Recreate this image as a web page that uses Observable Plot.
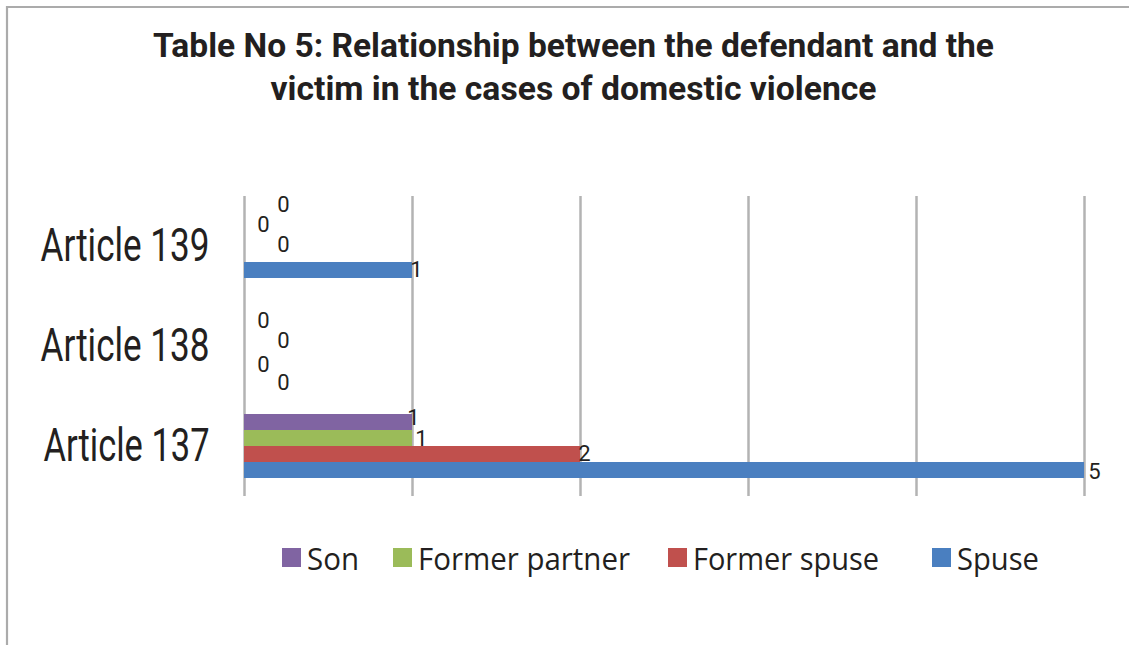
<!DOCTYPE html>
<html>
<head>
<meta charset="utf-8">
<script src="https://cdn.jsdelivr.net/npm/d3@7"></script>
<script src="https://cdn.jsdelivr.net/npm/@observablehq/plot@0.6"></script>
<style>
  html, body { margin: 0; padding: 0; background: #fff; }
  #root { width: 1129px; height: 645px; overflow: hidden; background: #fff; }
</style>
</head>
<body>
<div id="root"></div>
<script>
// ---- data ----
const categories = ["Article 139", "Article 138", "Article 137"];
const series = ["Son", "Former partner", "Former spuse", "Spuse"];
const son = [0, 0, 1];
const formerPartner = [0, 0, 1];
const formerSpuse = [0, 0, 2];
const spuse = [1, 0, 5];
const xTicks = [0, 1, 2, 3, 4, 5];
const titleLines = [
  "Table No 5: Relationship between the defendant and the",
  "victim in the cases of domestic violence"
];

// ---- styles ----
const colors = ["#8064A2", "#9BBB59", "#C0504D", "#4A7FC0"];
const ink = "#231f20";
// label nudges (Excel moved colliding labels): [dx, dy] per category/series
const nudge = {
  "Article 139": [[39, -18], [19, -14], [39, -10], [4, -1]],
  "Article 138": [[19, -2], [39, 2], [19, 10], [39, 12]],
  "Article 137": [[1, -5], [9, 0], [4, -1], [10, 1]]
};

const valuesBySeries = [son, formerPartner, formerSpuse, spuse];
const data = [];
categories.forEach((c, i) => series.forEach((s, j) =>
  data.push({category: c, series: s, value: valuesBySeries[j][i]})));

const labelMarks = data.map((d) => {
  const [dx, dy] = nudge[d.category][series.indexOf(d.series)];
  return Plot.text([d], {
    x: "value", y: "series", fy: "category", text: (r) => String(r.value),
    dx, dy, textAnchor: "middle", fontSize: 22, fill: ink, fontFamily: "Roboto"
  });
});

const svg = Plot.plot({
  width: 1129, height: 645,
  marginTop: 196, marginBottom: 149, marginLeft: 244, marginRight: 45,
  style: {fontFamily: "Roboto, 'DejaVu Sans', sans-serif", background: "#fff", overflow: "visible"},
  x: {domain: [0, 5], axis: null},
  y: {domain: series, axis: null, paddingInner: 0, paddingOuter: 1},
  fy: {domain: categories, padding: 0, label: null},
  color: {domain: series, range: colors},
  marks: [
    Plot.ruleX(xTicks, {stroke: "#b3b3b3", strokeWidth: 2.5}),
    Plot.barX(data.filter((d) => d.value > 0), {x: "value", y: "series", fy: "category", fill: "series"}),
    ...labelMarks,
    Plot.axisFy({anchor: "left", tickSize: 0, tickPadding: 35, fontSize: 46, label: null, fill: ink})
  ]
});

const s = d3.select(svg);
// fit category labels
s.selectAll('g[aria-label="fy-axis tick label"] text').each(function() {
  const t = d3.select(this);
  t.attr("font-family", "Roboto, 'DejaVu Sans', sans-serif").attr("font-size", 46);
  const txt = this.textContent;
  t.attr("textLength", txt.endsWith("137") ? 166 : 169).attr("lengthAdjust", "spacingAndGlyphs");
});

// frame
s.append("path").attr("d", "M7,645V7H1129").attr("fill", "none")
  .attr("stroke", "#ababab").attr("stroke-width", 2.2);

// title
const titleW = [841, 606], titleY = [57, 100];
titleLines.forEach((line, i) => {
  s.append("text").text(line)
    .attr("x", 573.5).attr("y", titleY[i]).attr("text-anchor", "middle")
    .attr("font-family", "Roboto, 'DejaVu Sans', sans-serif").attr("font-weight", 700)
    .attr("font-size", 33).attr("fill", ink)
    .attr("textLength", titleW[i]).attr("lengthAdjust", "spacingAndGlyphs");
});

// legend
const legX = [282, 393, 668, 932], legTW = [52, 212, 186, 82];
series.forEach((name, i) => {
  s.append("rect").attr("x", legX[i]).attr("y", 548).attr("width", 19).attr("height", 19)
    .attr("fill", colors[i]);
  s.append("text").text(name).attr("x", legX[i] + 25).attr("y", 570)
    .attr("text-anchor", "start")
    .attr("font-family", "'Open Sans', 'Noto Sans', sans-serif").attr("font-size", 31)
    .attr("fill", ink).attr("textLength", legTW[i]).attr("lengthAdjust", "spacingAndGlyphs");
});

document.getElementById("root").appendChild(svg);
</script>
</body>
</html>
